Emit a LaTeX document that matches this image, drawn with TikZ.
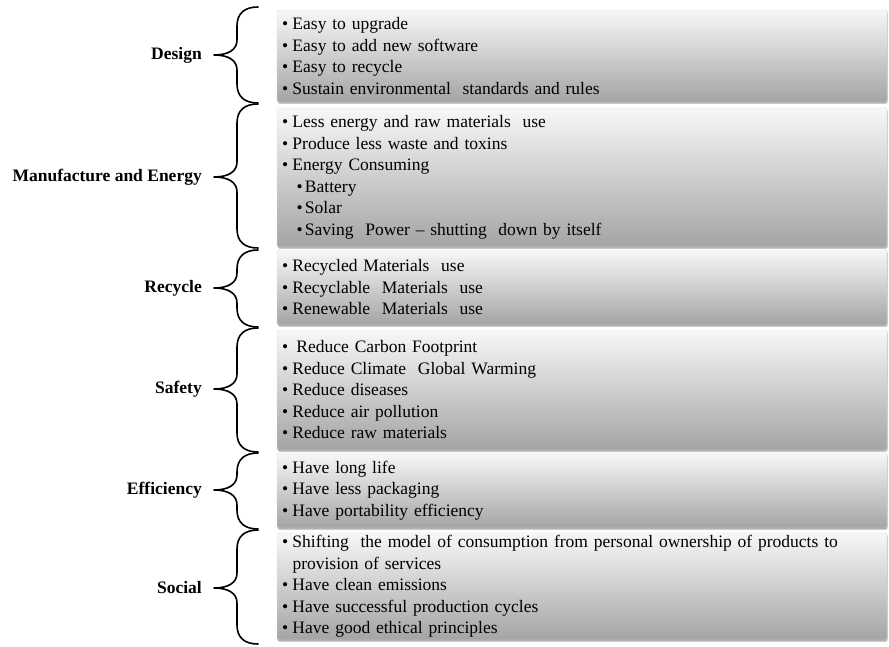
\documentclass[tikz,border=0pt]{standalone}
\usepackage{fontspec}
\setmainfont{Liberation Serif}
\usetikzlibrary{shadows}

\definecolor{boxgray}{RGB}{164,164,164}
\newcommand\bodyfont{\fontsize{17.5}{21.5}\selectfont}
% bullet helpers for the item lists
\newcommand\itm{\makebox[10.5pt][l]{\textbullet}}
\newcommand\subitm{\hspace*{14.5pt}\makebox[8.5pt][l]{\textbullet}}
% curly brace: #1 top, #2 tip, #3 bottom (y grows downward)
\newcommand\curlybrace[3]{%
  \draw[curly] (258,#1) .. controls (245,#1) and (237,#1+6) .. (237,#1+19)
    -- (237,#2-15) .. controls (237,#2-5) and (228,#2) .. (214,#2)
    .. controls (228,#2) and (237,#2+5) .. (237,#2+15)
    -- (237,#3-19) .. controls (237,#3-6) and (245,#3) .. (258,#3);}

\tikzset{
  itembox/.style={rectangle, rounded corners=1.5pt,
    top color=white!97!black, bottom color=boxgray,
    draw=white!88!black, line width=0.4pt,
    minimum width=610pt, text width=600pt,
    inner xsep=5pt, inner ysep=0pt, align=left, font=\bodyfont,
    drop shadow={shadow xshift=0.6pt, shadow yshift=-1.6pt,
      opacity=0.45, fill=black!70}},
  catlabel/.style={anchor=east, font=\bodyfont\bfseries, inner sep=0pt},
  curly/.style={line width=1.6pt, line cap=round, line join=round, black}
}

\begin{document}
\begin{tikzpicture}[x=1pt, y=-1pt]
\useasboundingbox (0,0) rectangle (889,647);
\fill[white] (0,0) rectangle (889,647);

% item boxes
\node[itembox, minimum height=92pt] (design) at (582,56) {%
\itm Easy to upgrade\\
\itm Easy to add new software\\
\itm Easy to recycle\\
\itm Sustain environmental\ \ standards and rules};

\node[itembox, minimum height=139pt] (manuf) at (582,177.5) {%
\itm Less energy and raw materials\ \ use\\
\itm Produce less waste and toxins\\
\itm Energy Consuming\\
\subitm Battery\\
\subitm Solar\\
\subitm Saving\ \ Power -- shutting\ \ down by itself};

\node[itembox, minimum height=75pt] (recyc) at (582,287.5) {%
\itm Recycled Materials\ \ use\\
\itm Recyclable\ \ Materials\ \ use\\
\itm Renewable\ \ Materials\ \ use};

\node[itembox, minimum height=120pt] (safety) at (582,390) {%
\itm\hspace{4pt}Reduce Carbon Footprint\\
\itm Reduce Climate\ \ Global Warming\\
\itm Reduce diseases\\
\itm Reduce air pollution\\
\itm Reduce raw materials};

\node[itembox, minimum height=75pt] (effic) at (582,490.5) {%
\itm Have long life\\
\itm Have less packaging\\
\itm Have portability efficiency};

\node[itembox, minimum height=107pt] (social) at (582,586.5) {%
\itm Shifting\ \ the model of consumption from personal ownership of products to\\
\hspace*{10.5pt}provision of services\\
\itm Have clean emissions\\
\itm Have successful production cycles\\
\itm Have good ethical principles};

% category labels
\node[catlabel] (ldesign) at (202,55) {Design};
\node[catlabel] (lmanuf)  at (202,177) {Manufacture and Energy};
\node[catlabel] (lrecyc)  at (202,288) {Recycle};
\node[catlabel] (lsafety) at (202,389) {Safety};
\node[catlabel] (leffic)  at (202,490) {Efficiency};
\node[catlabel] (lsocial) at (202,588) {Social};

% braces joining each label to its box
\curlybrace{7}{55}{103}
\curlybrace{104}{177}{248}
\curlybrace{250}{288}{327}
\curlybrace{328}{389}{452}
\curlybrace{453}{490}{529}
\curlybrace{530}{588}{644}
\end{tikzpicture}
\end{document}
